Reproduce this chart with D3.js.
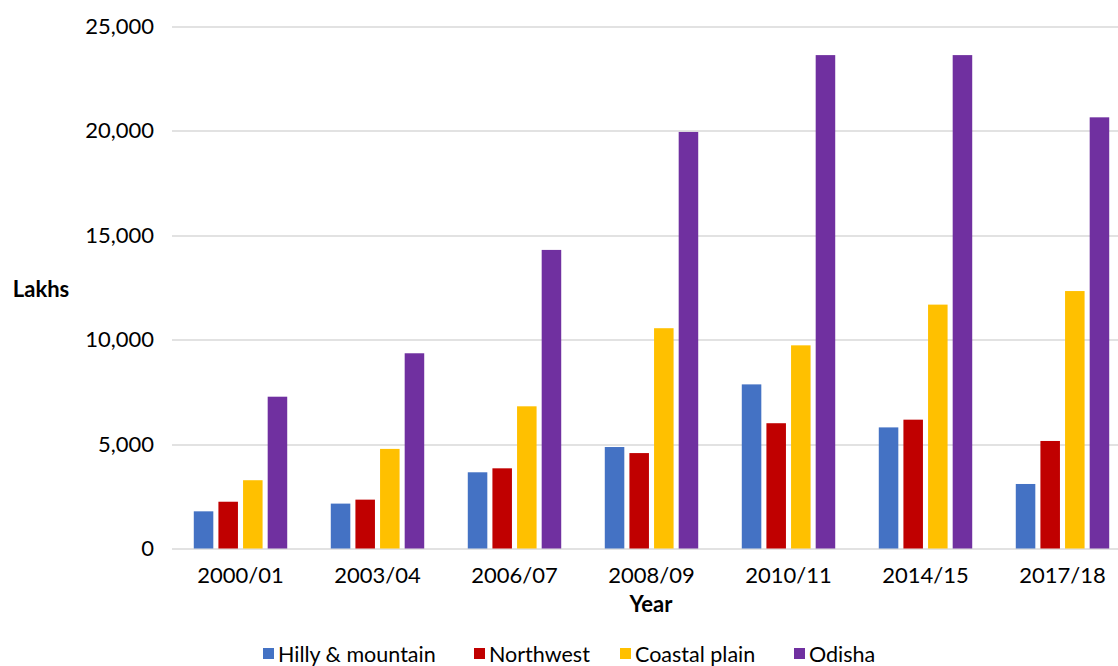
<!DOCTYPE html>
<html>
<head>
<meta charset="utf-8">
<script src="https://cdn.jsdelivr.net/npm/d3@7"></script>
<style>
  html, body { margin: 0; padding: 0; background: #fff; }
  svg { display: block; font-family: Lato, "Open Sans", sans-serif; }
</style>
</head>
<body>
<svg id="chart" width="1118" height="666"></svg>
<script>
// Years on the category axis
const years = ["2000/01", "2003/04", "2006/07", "2008/09", "2010/11", "2014/15", "2017/18"];

// Region series, in lakhs
const seriesNames = ["Hilly & mountain", "Northwest", "Coastal plain", "Odisha"];
const hillyMountain = [1780, 2150, 3650, 4860, 7860, 5800, 3090];
const northwest     = [2240, 2340, 3840, 4570, 6000, 6170, 5150];
const coastalPlain  = [3270, 4770, 6810, 10550, 9730, 11680, 12330];
const odisha        = [7270, 9350, 14300, 19950, 23630, 23630, 20650];

const yTicks = [0, 5000, 10000, 15000, 20000, 25000];
const colors = ["#4472C4", "#C00000", "#FFC000", "#7030A0"];

const seriesValues = [hillyMountain, northwest, coastalPlain, odisha];
const rows = years.map((yr, i) => ({
  year: yr,
  values: seriesNames.map((name, s) => ({ name, value: seriesValues[s][i], color: colors[s] }))
}));

const svg = d3.select("#chart");
const W = 1118, H = 666;
const margin = { left: 172, top: 26.5, bottom: 117.5 };
// The category band runs slightly past the right edge of the frame
const bandW = 959;
const gridW = W - margin.left;
const plotH = H - margin.top - margin.bottom;

const x0 = d3.scaleBand().domain(years).range([0, bandW]).paddingInner(0.318).paddingOuter(0.159);
const x1 = d3.scaleBand().domain(seriesNames).range([0, x0.bandwidth()]).paddingInner(0.207).paddingOuter(0);
const y = d3.scaleLinear().domain([0, 25000]).range([plotH, 0]);

const g = svg.append("g").attr("transform", `translate(${margin.left},${margin.top})`);

// Horizontal gridlines
g.append("g")
  .selectAll("line")
  .data(yTicks)
  .join("line")
  .attr("x1", 0).attr("x2", gridW)
  .attr("y1", d => Math.round(y(d)) + 0.5)
  .attr("y2", d => Math.round(y(d)) + 0.5)
  .attr("stroke", "#d9d9d9")
  .attr("stroke-width", 1.3);

// Y axis labels
const fmt = d3.format(",");
const yAxis = d3.axisLeft(y).tickValues(yTicks).tickFormat(fmt).tickSize(0).tickPadding(18);
g.append("g").call(yAxis)
  .call(a => a.select(".domain").remove())
  .call(a => a.selectAll("text")
    .attr("font-family", "Lato, sans-serif")
    .attr("font-size", 22)
    .attr("fill", "#000"));

// Bars
const groups = g.append("g")
  .selectAll("g")
  .data(rows)
  .join("g")
  .attr("transform", d => `translate(${x0(d.year)},0)`);

groups.selectAll("rect")
  .data(d => d.values)
  .join("rect")
  .attr("x", d => x1(d.name))
  .attr("width", x1.bandwidth())
  .attr("y", d => y(d.value))
  .attr("height", d => y(0) - y(d.value))
  .attr("fill", d => d.color);

// X axis labels
const xAxis = d3.axisBottom(x0).tickSize(0).tickPadding(19);
g.append("g").attr("transform", `translate(0,${plotH})`).call(xAxis)
  .call(a => a.select(".domain").remove())
  .call(a => a.selectAll("text")
    .attr("font-family", "Lato, sans-serif")
    .attr("font-size", 22)
    .attr("fill", "#000"));

// Axis titles
svg.append("text")
  .attr("x", 41).attr("y", 288)
  .attr("text-anchor", "middle").attr("dominant-baseline", "central")
  .attr("font-family", "Lato, sans-serif").attr("font-weight", "bold")
  .attr("font-size", 22).attr("fill", "#000")
  .text("Lakhs");

svg.append("text")
  .attr("x", 651).attr("y", 603)
  .attr("text-anchor", "middle").attr("dominant-baseline", "central")
  .attr("font-family", "Lato, sans-serif").attr("font-weight", "bold")
  .attr("font-size", 22).attr("fill", "#000")
  .text("Year");

// Legend
const legendX = [263, 474, 620, 794];
const legend = svg.append("g")
  .selectAll("g")
  .data(seriesNames)
  .join("g")
  .attr("transform", (d, i) => `translate(${legendX[i]},653.5)`);

legend.append("rect")
  .attr("x", 0).attr("y", -5.5)
  .attr("width", 11).attr("height", 11)
  .attr("fill", (d, i) => colors[i]);

legend.append("text")
  .attr("x", 15).attr("y", 0)
  .attr("dominant-baseline", "central")
  .attr("font-family", "Lato, sans-serif")
  .attr("font-size", 21.5).attr("fill", "#000")
  .text(d => d);
</script>
</body>
</html>
